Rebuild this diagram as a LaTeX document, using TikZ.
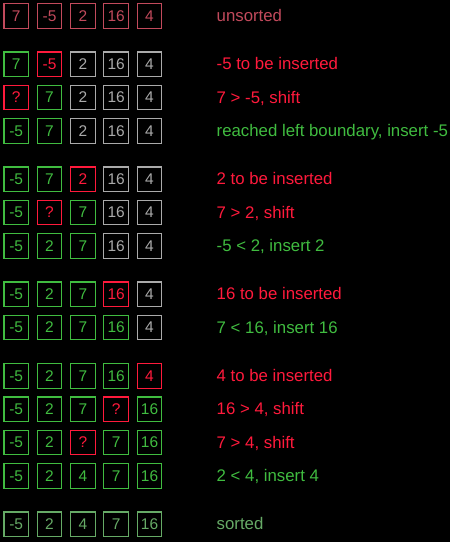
\documentclass[tikz,border=0pt]{standalone}
\usepackage{fontspec}
\setmainfont{Liberation Sans}
\definecolor{cR}{HTML}{FF1A3C}
\definecolor{cG}{HTML}{40BC40}
\definecolor{cY}{HTML}{AAAAAA}
\definecolor{cU}{HTML}{C24A5C}
\definecolor{cS}{HTML}{66AA66}
\begin{document}
\begin{tikzpicture}[x=1pt,y=-1pt,
  cell/.style={draw=#1,text=#1,line width=1.2pt,minimum width=24.6pt,minimum height=24.6pt,inner sep=0pt,font=\fontsize{15.5}{18}\selectfont},
  lab/.style={anchor=base west,text=#1,inner sep=0pt,font=\fontsize{16.8}{18}\selectfont}]
\fill[black] (0,0) rectangle (450,542);
\useasboundingbox (0,0) rectangle (450,542);
\foreach \r/\y/\cells/\lc/\txt in {
 1/15.8/{cU/7,cU/-5,cU/2,cU/16,cU/4}/cU/{unsorted},
 2/64.2/{cG/7,cR/-5,cY/2,cY/16,cY/4}/cR/{-5 to be inserted},
 3/97.5/{cR/?,cG/7,cY/2,cY/16,cY/4}/cR/{7 > -5, shift},
 4/130.8/{cG/-5,cG/7,cY/2,cY/16,cY/4}/cG/{reached left boundary, insert -5},
 5/179.2/{cG/-5,cG/7,cR/2,cY/16,cY/4}/cR/{2 to be inserted},
 6/212.5/{cG/-5,cR/?,cG/7,cY/16,cY/4}/cR/{7 > 2, shift},
 7/245.8/{cG/-5,cG/2,cG/7,cY/16,cY/4}/cG/{-5 < 2, insert 2},
 8/294.2/{cG/-5,cG/2,cG/7,cR/16,cY/4}/cR/{16 to be inserted},
 9/327.5/{cG/-5,cG/2,cG/7,cG/16,cY/4}/cG/{7 < 16, insert 16},
 10/375.8/{cG/-5,cG/2,cG/7,cG/16,cR/4}/cR/{4 to be inserted},
 11/409.2/{cG/-5,cG/2,cG/7,cR/?,cG/16}/cR/{16 > 4, shift},
 12/442.5/{cG/-5,cG/2,cR/?,cG/7,cG/16}/cR/{7 > 4, shift},
 13/475.8/{cG/-5,cG/2,cG/4,cG/7,cG/16}/cG/{2 < 4, insert 4},
 14/524.2/{cS/-5,cS/2,cS/4,cS/7,cS/16}/cS/{sorted}}{
  \foreach \cc/\v [count=\i] in \cells {
    \node[cell=\cc] (r\r c\i) at ({16.2+33.33*(\i-1)},\y) {\v};
  }
  \node[lab=\lc] (t\r) at (216.5,\y+5.5) {\txt};
}
\end{tikzpicture}
\end{document}
